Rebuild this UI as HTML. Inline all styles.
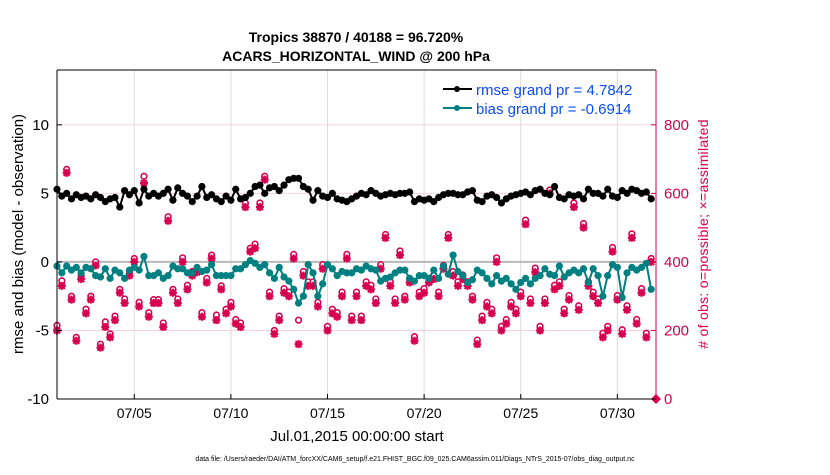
<!DOCTYPE html>
<html><head><meta charset="utf-8"><style>
body{margin:0;background:#fff;width:830px;height:470px;overflow:hidden;font-family:"Liberation Sans",Arial,sans-serif}
</style></head><body>
<svg id="chart" width="830" height="470" xmlns="http://www.w3.org/2000/svg" font-family="Liberation Sans, Arial, sans-serif">
<text x="356" y="42" text-anchor="middle" font-size="14" font-weight="bold">Tropics 38870 / 40188 = 96.720%</text>
<text x="356" y="61" text-anchor="middle" font-size="14" font-weight="bold">ACARS_HORIZONTAL_WIND @ 200 hPa</text>
<g id="grid"></g><g id="marks"></g><g id="axes"></g>
<text transform="translate(23,234) rotate(-90)" text-anchor="middle" font-size="15">rmse and bias (model - observation)</text>
<text transform="translate(708,234) rotate(-90)" text-anchor="middle" font-size="14" letter-spacing="0.3" fill="#d6004f"># of obs: o=possible; ×=assimilated</text>
<text x="357" y="441" text-anchor="middle" font-size="15">Jul.01,2015 00:00:00 start</text>
<text x="415" y="461" text-anchor="middle" font-size="7">data file: /Users/raeder/DAI/ATM_forcXX/CAM6_setup/f.e21.FHIST_BGC.f09_025.CAM6assim.011/Diags_NTrS_2015-07/obs_diag_output.nc</text>
<g>
<line x1="443" y1="89" x2="472" y2="89" stroke="#000" stroke-width="2"/><circle cx="457" cy="89" r="3" fill="#000"/>
<text x="476" y="95" font-size="15" fill="#0a4cf5">rmse grand pr = 4.7842</text>
<line x1="443" y1="108" x2="472" y2="108" stroke="#008080" stroke-width="2"/><circle cx="457" cy="108" r="3" fill="#008080"/>
<text x="476" y="114" font-size="15" fill="#0a4cf5">bias grand pr = -0.6914</text>
</g>
</svg>
<script>
const rmse=[5.3,4.8,5.0,4.6,4.9,4.7,4.8,4.6,4.9,4.7,4.4,4.6,4.7,4.0,5.2,4.9,5.2,4.3,5.3,4.8,5.0,4.8,5.0,5.3,4.5,5.4,5.0,4.8,4.4,4.8,5.5,4.7,4.9,4.6,4.4,4.8,4.5,5.3,4.6,4.7,5.0,5.5,5.6,5.0,5.4,5.5,5.2,5.6,6.0,6.1,6.1,5.5,5.3,4.5,5.2,4.8,4.7,5.0,4.6,4.5,4.4,4.6,4.8,5.0,4.9,5.2,5.0,4.8,4.9,5.0,4.9,5.0,5.0,5.1,4.4,4.6,4.5,4.6,4.4,4.7,4.9,5.0,5.0,4.9,4.9,5.1,5.2,4.5,4.4,4.8,4.9,4.7,4.3,4.6,4.8,4.9,5.0,5.1,4.9,5.2,5.3,5.0,4.9,5.5,4.7,4.6,4.9,4.8,4.9,4.6,5.3,5.0,5.0,4.8,5.3,4.8,4.7,5.2,5.0,5.3,5.2,5.0,5.1,4.6];
const bias=[-0.3,-0.8,-0.3,-0.6,-0.4,-0.8,-0.4,-0.5,-1.0,-1.1,-0.5,-1.2,-0.6,-0.8,-1.2,-0.6,-0.4,-0.6,0.4,-1.0,-1.0,-0.8,-1.2,-1.0,-0.3,-0.5,-0.5,-0.8,-0.8,-0.4,-0.7,-0.6,-0.2,-1.0,-1.0,-1.0,-1.0,-0.5,-0.5,-0.2,0.1,-0.1,-0.4,-0.2,-0.8,-1.2,-0.4,-1.1,-1.4,-2.0,-3.0,-2.5,-0.2,-0.8,-2.5,-1.6,-0.2,-0.5,-1.0,-0.7,-0.8,-0.8,-0.5,-0.6,-0.3,-0.5,-0.6,-1.4,-1.2,-1.1,-0.8,-0.6,-0.6,-1.2,-1.4,-1.0,-1.0,-1.2,-0.6,-1.2,-0.3,-0.9,0.5,-0.7,-1.0,-1.5,-1.3,-0.6,-0.8,-1.2,-1.6,-1.0,-1.4,-1.2,-1.6,-2.0,-1.5,-1.2,-1.6,-1.2,-1.0,-0.5,-0.9,-1.0,-0.3,-1.1,-0.8,-0.6,-0.8,-0.5,-1.5,-0.5,-1.0,-2.5,-1.0,-0.2,-0.4,-2.6,-0.8,-0.4,-0.6,-0.4,-0.1,-2.0];
const nAssim=[200,330,660,290,170,350,250,290,390,150,210,180,230,310,280,360,400,270,630,240,280,280,210,520,310,280,400,320,360,370,240,340,410,230,320,250,270,220,210,560,430,440,560,640,300,190,230,310,300,410,160,360,330,330,270,380,200,250,240,300,410,230,300,230,330,320,280,380,470,330,280,420,290,340,170,300,310,340,350,300,380,470,360,330,350,330,290,160,230,270,250,400,200,220,270,250,300,510,280,370,200,280,600,320,330,250,290,560,260,500,330,300,280,180,200,430,290,190,260,470,220,310,180,400];
const nPoss=[215,345,670,300,180,360,262,300,400,160,225,190,242,320,292,372,410,282,650,252,290,290,222,532,320,292,412,332,372,380,252,352,420,245,330,262,282,232,222,572,440,452,572,650,312,200,242,322,312,422,230,372,342,342,282,392,212,262,252,312,422,242,312,242,342,332,292,392,480,342,292,432,300,352,182,312,322,352,362,312,390,480,372,342,362,342,300,172,242,282,262,412,212,232,282,262,312,522,292,382,212,292,610,332,342,262,302,572,272,512,342,312,292,192,212,442,302,202,272,482,232,322,192,410];
const dayTicks=[4,9,14,19,24,29];
const dayLabels=["07/05","07/10","07/15","07/20","07/25","07/30"];
const leftTicks=[-10,-5,0,5,10];
const rightTicks=[0,200,400,600,800];

const X0=57,X1=656,Y0=70,Y1=399,NDAYS=31,LMIN=-10,LMAX=14,RMIN=0,RMAX=960;
const xs=d=>X0+(d/NDAYS)*(X1-X0);
const yl=v=>Y1-(v-LMIN)/(LMAX-LMIN)*(Y1-Y0);
const yr=v=>Y1-(v-RMIN)/(RMAX-RMIN)*(Y1-Y0);
const NS='http://www.w3.org/2000/svg';
function mk(tag,parent,attrs){const e=document.createElementNS(NS,tag);for(const k in attrs)e.setAttribute(k,attrs[k]);parent.appendChild(e);return e;}
const grid=document.getElementById('grid'),marks=document.getElementById('marks'),axes=document.getElementById('axes');

dayTicks.forEach((d,i)=>{
 const g=mk('line',grid,{x1:xs(d),x2:xs(d),y1:Y0,y2:Y1,stroke:'#dcdcdc','stroke-width':1});
 
 
 mk('line',axes,{x1:xs(d),x2:xs(d),y1:Y1,y2:Y1-5,stroke:'#000'});
 const t=mk('text',axes,{x:xs(d),y:Y1+19,'text-anchor':'middle','font-size':14});
 t.textContent=dayLabels[i];
 
 
});
leftTicks.forEach(v=>{
 const g=mk('line',grid,{x1:X0,x2:X1,y1:yl(v),y2:yl(v),stroke:'#f6d0dc','stroke-width':1});
 
 
 mk('line',axes,{x1:X0,x2:X0+5,y1:yl(v),y2:yl(v),stroke:'#000'});
 const t=mk('text',axes,{x:X0-8,y:yl(v)+5,'text-anchor':'end','font-size':15});
 t.textContent=v;
 
 
});
rightTicks.forEach(v=>{
 mk('line',axes,{x1:X1,x2:X1-5,y1:yr(v),y2:yr(v),stroke:'#d6004f'});
 const t=mk('text',axes,{x:X1+8,y:yr(v)+5,'font-size':15,fill:'#d6004f'});
 t.textContent=v;
 
 
});
const z=mk('line',grid,{x1:X0,x2:X1,y1:yl(0),y2:yl(0),stroke:'#b8b8b8','stroke-width':2});



nPoss.forEach((v,i)=>{
 const c=mk('circle',marks,{cx:xs(i/4),cy:yr(v),r:2.8,fill:'#fff',stroke:'#d6004f','stroke-width':1.6});
 
 
});
nAssim.forEach((v,i)=>{
 const x=xs(i/4),y=yr(v);
 const g=mk('path',marks,{d:`M${x-4},${y}h8M${x},${y-4}v8M${x-3},${y-3}l6,6M${x+3},${y-3}l-6,6`,stroke:'#d6004f','stroke-width':2.2});
 
 
});
function series(arr,color,name){
 const pts=arr.map((v,i)=>xs(i/4)+','+yl(v)).join(' ');
 const p=mk('polyline',marks,{points:pts,fill:'none',stroke:color,'stroke-width':2});
 
 
 arr.forEach((v,i)=>{
  const c=mk('circle',marks,{cx:xs(i/4),cy:yl(v),r:3.6,fill:color});
  
  
 });
}
series(bias,'#008080','bias');
series(rmse,'#000000','rmse');
const dm=mk('path',marks,{d:`M${X1-5},${Y1}L${X1},${Y1-5}L${X1+5},${Y1}L${X1},${Y1+5}Z`,fill:'#d6004f'});


mk('line',axes,{x1:X0,x2:X1,y1:Y0,y2:Y0,stroke:'#000'});
mk('line',axes,{x1:X0,x2:X1,y1:Y1,y2:Y1,stroke:'#000'});
mk('line',axes,{x1:X0,x2:X0,y1:Y0,y2:Y1,stroke:'#000'});
mk('line',axes,{x1:X1,x2:X1,y1:Y0,y2:Y1,stroke:'#d6004f'});
</script>
</body></html>
